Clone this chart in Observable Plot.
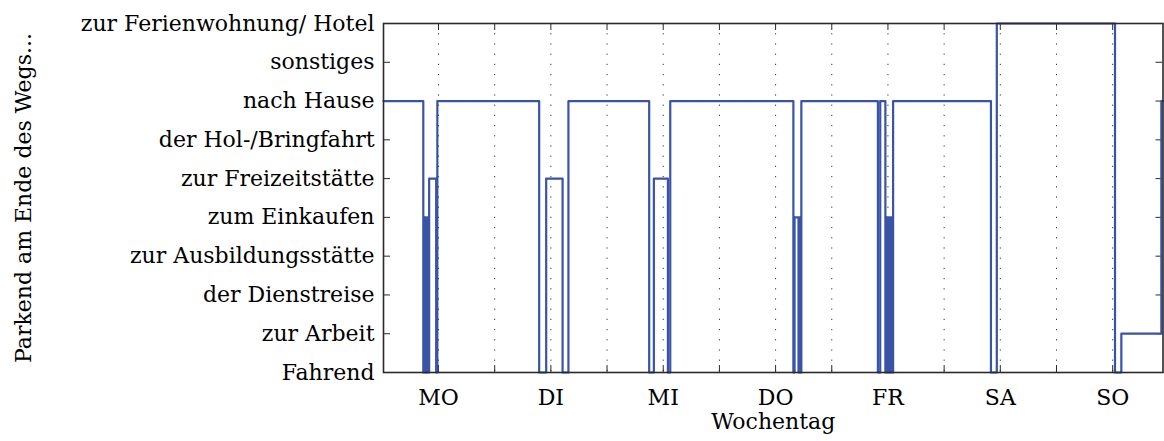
<!DOCTYPE html>
<html>
<head>
<meta charset="utf-8">
<script src="https://cdn.jsdelivr.net/npm/d3@7"></script>
<script src="https://cdn.jsdelivr.net/npm/@observablehq/plot@0.6"></script>
<style>
  html, body { margin: 0; padding: 0; background: #fff; }
</style>
</head>
<body>
<div id="chart"></div>
<script>
// Parking purpose at the end of each trip, one week of a single vehicle
const stateLabels = [
  "Fahrend",
  "zur Arbeit",
  "der Dienstreise",
  "zur Ausbildungsstätte",
  "zum Einkaufen",
  "zur Freizeitstätte",
  "der Hol-/Bringfahrt",
  "nach Hause",
  "sonstiges",
  "zur Ferienwohnung/ Hotel"
];
const dayLabels = ["MO", "DI", "MI", "DO", "FR", "SA", "SO"];
const dayCenters = [12, 36, 60, 84, 108, 132, 156];     // hours since Monday 0:00
const gridHours = d3.range(12, 157, 12);
const weekSpan = [0.25, 166.75];

// change points: hour of the week and the state that starts there
const changeHours = [
  0.25, 8.75, 9.0, 9.25, 9.5, 9.75, 10.0, 11.5, 11.75,
  33.5, 35.0, 38.5, 39.75,
  57.0, 58.0, 61.0, 61.5,
  87.8, 88.05, 88.9, 89.1, 89.25, 89.5,
  105.85, 106.35, 107.45, 107.7, 108.0, 108.25, 108.5, 108.75, 108.95, 109.1,
  130.0, 131.25,
  156.5, 157.85, 166.4, 166.75
];
const stateCodes = [
  7, 0, 4, 0, 4, 0, 5, 0, 7,
  0, 5, 0, 7,
  0, 5, 0, 7,
  0, 4, 0, 4, 0, 7,
  0, 7, 0, 4, 0, 4, 0, 4, 0, 7,
  0, 9,
  0, 1, 7, 7
];

const trips = changeHours.map((h, i) => ({hour: h, state: stateCodes[i]}));

const W = 1164, H = 441;
const mL = 383, mR = 1.5, mT = 23, mB = 69;
const innerW = W - mL - mR, innerH = H - mT - mB;
const tickLen = 7;
const ink = "#2a2a2a";

const chart = Plot.plot({
  width: W,
  height: H,
  marginLeft: mL,
  marginRight: mR,
  marginTop: mT,
  marginBottom: mB,
  style: {fontFamily: "'DejaVu Serif', serif", fontSize: "22px", color: "#000", background: "#fff"},
  x: {domain: weekSpan},
  y: {domain: [0, stateLabels.length - 1]},
  marks: [
    // dotted vertical grid every 12 hours
    Plot.ruleX(gridHours, {x: d => d, stroke: "#333", strokeWidth: 1, strokeDasharray: "1.2,9"}),
    // inward ticks on all four sides
    Plot.tickX(gridHours, {x: d => d, stroke: ink, strokeWidth: 1, insetTop: innerH - tickLen}),
    Plot.tickX(gridHours, {x: d => d, stroke: ink, strokeWidth: 1, insetBottom: innerH - tickLen}),
    Plot.tickY(d3.range(stateLabels.length), {y: d => d, stroke: ink, strokeWidth: 1, insetRight: innerW - tickLen}),
    Plot.tickY(d3.range(stateLabels.length), {y: d => d, stroke: ink, strokeWidth: 1, insetLeft: innerW - tickLen}),
    // the state trace
    Plot.line(trips, {x: "hour", y: "state", curve: "step-after", stroke: "#3a53a7", strokeWidth: 2.2}),
    Plot.frame({stroke: ink, strokeWidth: 1.6}),
    Plot.axisY({
      ticks: d3.range(stateLabels.length),
      tickFormat: i => stateLabels[i],
      tickSize: 0,
      tickPadding: 9,
      fontSize: 22,
      label: null
    }),
    Plot.axisX({
      ticks: dayCenters,
      tickFormat: (d, i) => dayLabels[i],
      tickSize: 0,
      tickPadding: 17,
      fontSize: 22,
      label: null
    }),
    Plot.text(["Wochentag"], {frameAnchor: "bottom", dy: 56, text: d => d, fontSize: 22}),
    Plot.text(["Parkend am Ende des Wegs..."], {
      frameAnchor: "left", textAnchor: "middle", dx: -360, rotate: -90, text: d => d, fontSize: 22
    })
  ]
});

document.getElementById("chart").appendChild(chart);
</script>
</body>
</html>
